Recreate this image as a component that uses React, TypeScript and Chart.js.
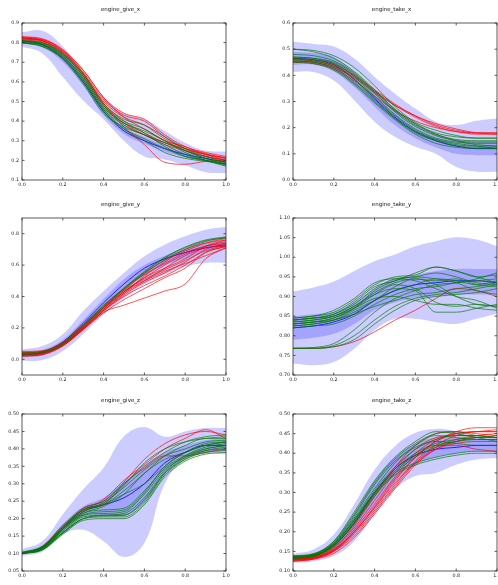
import React, { useEffect, useRef } from 'react';
import { Chart, registerables } from 'chart.js';

Chart.register(...registerables);
Chart.defaults.font.family = '"DejaVu Sans", sans-serif';

// ---------- shared x values / ticks ----------
const XS = [0.0, 0.1, 0.2, 0.3, 0.4, 0.5, 0.6, 0.7, 0.8, 0.9, 1.0];
const X_TICKS = [0.0, 0.2, 0.4, 0.6, 0.8, 1.0];

// ---------- engine_give_x ----------
const giveX_yTicks = [0.1, 0.2, 0.3, 0.4, 0.5, 0.6, 0.7, 0.8, 0.9];
const giveX_outerHi = [0.854, 0.86, 0.78, 0.65, 0.52, 0.44, 0.41, 0.35, 0.29, 0.25, 0.245];
const giveX_outerLo = [0.78, 0.745, 0.625, 0.505, 0.41, 0.30, 0.22, 0.205, 0.175, 0.14, 0.135];
const giveX_innerHi = [0.825, 0.805, 0.74, 0.62, 0.47, 0.37, 0.32, 0.275, 0.245, 0.225, 0.21];
const giveX_innerLo = [0.795, 0.775, 0.70, 0.58, 0.43, 0.335, 0.285, 0.245, 0.215, 0.195, 0.175];
const giveX_mean = [0.81, 0.79, 0.72, 0.60, 0.45, 0.35, 0.30, 0.26, 0.23, 0.21, 0.19];
const giveX_red = [
  [0.83, 0.815, 0.76, 0.65, 0.51, 0.43, 0.40, 0.32, 0.26, 0.23, 0.21],
  [0.825, 0.81, 0.75, 0.64, 0.50, 0.42, 0.38, 0.31, 0.26, 0.23, 0.20],
  [0.82, 0.81, 0.755, 0.645, 0.49, 0.40, 0.34, 0.29, 0.25, 0.22, 0.20],
  [0.83, 0.82, 0.765, 0.66, 0.52, 0.42, 0.36, 0.30, 0.27, 0.23, 0.215],
  [0.82, 0.805, 0.745, 0.63, 0.48, 0.39, 0.33, 0.28, 0.25, 0.22, 0.20],
  [0.815, 0.80, 0.74, 0.63, 0.48, 0.37, 0.28, 0.19, 0.18, 0.195, 0.20],
  [0.82, 0.815, 0.76, 0.66, 0.52, 0.44, 0.41, 0.33, 0.27, 0.24, 0.22],
  [0.825, 0.81, 0.75, 0.64, 0.49, 0.38, 0.33, 0.29, 0.26, 0.235, 0.21],
];
const giveX_green = [
  [0.80, 0.79, 0.73, 0.61, 0.46, 0.38, 0.33, 0.28, 0.23, 0.20, 0.18],
  [0.805, 0.795, 0.74, 0.63, 0.48, 0.40, 0.36, 0.30, 0.25, 0.21, 0.19],
  [0.80, 0.78, 0.72, 0.60, 0.45, 0.36, 0.31, 0.26, 0.22, 0.20, 0.185],
  [0.81, 0.80, 0.745, 0.64, 0.49, 0.41, 0.38, 0.32, 0.26, 0.22, 0.19],
  [0.80, 0.785, 0.725, 0.61, 0.46, 0.36, 0.30, 0.24, 0.21, 0.195, 0.18],
  [0.81, 0.795, 0.735, 0.62, 0.47, 0.39, 0.34, 0.27, 0.22, 0.20, 0.175],
  [0.80, 0.78, 0.715, 0.59, 0.44, 0.37, 0.33, 0.29, 0.25, 0.21, 0.18],
  [0.805, 0.79, 0.73, 0.62, 0.47, 0.39, 0.35, 0.30, 0.24, 0.20, 0.17],
];

// ---------- engine_take_x ----------
const takeX_yTicks = [0.0, 0.1, 0.2, 0.3, 0.4, 0.5, 0.6];
const takeX_outerHi = [0.528, 0.52, 0.51, 0.464, 0.394, 0.33, 0.273, 0.223, 0.21, 0.226, 0.235];
const takeX_outerLo = [0.413, 0.413, 0.38, 0.305, 0.223, 0.165, 0.127, 0.10, 0.05, 0.032, 0.032];
const takeX_innerHi = [0.49, 0.485, 0.47, 0.41, 0.34, 0.27, 0.21, 0.175, 0.155, 0.15, 0.15];
const takeX_innerLo = [0.44, 0.44, 0.415, 0.355, 0.28, 0.21, 0.16, 0.125, 0.10, 0.095, 0.095];
const takeX_mean = [0.465, 0.46, 0.44, 0.385, 0.31, 0.24, 0.185, 0.15, 0.13, 0.12, 0.12];
const takeX_red = [
  [0.465, 0.455, 0.44, 0.40, 0.345, 0.29, 0.245, 0.21, 0.19, 0.18, 0.18],
  [0.46, 0.455, 0.435, 0.395, 0.34, 0.285, 0.24, 0.205, 0.185, 0.18, 0.18],
  [0.455, 0.45, 0.43, 0.39, 0.335, 0.285, 0.245, 0.215, 0.195, 0.18, 0.175],
  [0.45, 0.445, 0.425, 0.38, 0.32, 0.265, 0.225, 0.20, 0.185, 0.175, 0.175],
];
const takeX_green = [
  [0.50, 0.495, 0.475, 0.43, 0.36, 0.28, 0.22, 0.19, 0.17, 0.16, 0.16],
  [0.50, 0.49, 0.465, 0.415, 0.345, 0.27, 0.215, 0.18, 0.165, 0.16, 0.16],
  [0.47, 0.465, 0.45, 0.405, 0.335, 0.26, 0.205, 0.17, 0.15, 0.145, 0.145],
  [0.47, 0.465, 0.445, 0.395, 0.32, 0.25, 0.195, 0.16, 0.145, 0.14, 0.14],
  [0.46, 0.455, 0.435, 0.385, 0.315, 0.245, 0.19, 0.155, 0.135, 0.13, 0.13],
  [0.455, 0.45, 0.43, 0.375, 0.305, 0.235, 0.18, 0.15, 0.13, 0.125, 0.125],
  [0.45, 0.445, 0.42, 0.365, 0.295, 0.23, 0.175, 0.14, 0.125, 0.12, 0.12],
  [0.465, 0.46, 0.445, 0.40, 0.33, 0.265, 0.21, 0.175, 0.155, 0.15, 0.15],
  [0.48, 0.475, 0.455, 0.41, 0.34, 0.27, 0.215, 0.175, 0.15, 0.135, 0.13],
  [0.455, 0.45, 0.425, 0.37, 0.30, 0.235, 0.185, 0.155, 0.14, 0.13, 0.12],
];

// ---------- engine_give_y ----------
const giveY_yTicks = [0.0, 0.2, 0.4, 0.6, 0.8];
const giveY_outerHi = [0.063, 0.085, 0.16, 0.307, 0.434, 0.55, 0.656, 0.73, 0.783, 0.825, 0.842];
const giveY_outerLo = [-0.01, -0.005, 0.053, 0.16, 0.285, 0.39, 0.476, 0.54, 0.59, 0.614, 0.614];
const giveY_innerHi = [0.045, 0.06, 0.125, 0.25, 0.385, 0.51, 0.60, 0.66, 0.70, 0.735, 0.75];
const giveY_innerLo = [0.015, 0.025, 0.09, 0.20, 0.33, 0.44, 0.53, 0.60, 0.64, 0.69, 0.71];
const giveY_mean = [0.03, 0.045, 0.11, 0.23, 0.36, 0.48, 0.58, 0.64, 0.68, 0.71, 0.73];
const giveY_red = [
  [0.02, 0.03, 0.085, 0.19, 0.30, 0.345, 0.39, 0.435, 0.48, 0.64, 0.71],
  [0.03, 0.04, 0.095, 0.20, 0.31, 0.40, 0.47, 0.53, 0.60, 0.68, 0.72],
  [0.04, 0.05, 0.10, 0.21, 0.33, 0.44, 0.51, 0.57, 0.63, 0.69, 0.73],
  [0.025, 0.035, 0.09, 0.20, 0.32, 0.43, 0.52, 0.60, 0.67, 0.72, 0.75],
  [0.05, 0.055, 0.11, 0.22, 0.34, 0.45, 0.55, 0.63, 0.69, 0.74, 0.77],
  [0.03, 0.04, 0.095, 0.195, 0.31, 0.41, 0.49, 0.55, 0.62, 0.70, 0.74],
  [0.035, 0.045, 0.10, 0.205, 0.32, 0.42, 0.50, 0.58, 0.66, 0.71, 0.72],
  [0.02, 0.03, 0.085, 0.19, 0.31, 0.42, 0.53, 0.62, 0.70, 0.74, 0.76],
  [0.045, 0.05, 0.105, 0.215, 0.33, 0.43, 0.52, 0.58, 0.64, 0.72, 0.76],
  [0.03, 0.04, 0.09, 0.19, 0.295, 0.38, 0.45, 0.52, 0.58, 0.68, 0.72],
  [0.04, 0.045, 0.10, 0.21, 0.33, 0.45, 0.54, 0.61, 0.68, 0.72, 0.74],
  [0.025, 0.035, 0.09, 0.195, 0.32, 0.43, 0.50, 0.56, 0.61, 0.66, 0.71],
];
const giveY_green = [
  [0.035, 0.045, 0.10, 0.215, 0.34, 0.45, 0.555, 0.645, 0.71, 0.755, 0.775],
  [0.03, 0.04, 0.095, 0.205, 0.33, 0.44, 0.545, 0.635, 0.70, 0.75, 0.775],
  [0.04, 0.05, 0.105, 0.22, 0.345, 0.455, 0.56, 0.65, 0.715, 0.76, 0.78],
];

// ---------- engine_take_y ----------
const takeY_yTicks = [0.70, 0.75, 0.80, 0.85, 0.90, 0.95, 1.00, 1.05, 1.10];
const takeY_outerHi = [0.913, 0.923, 0.938, 0.965, 0.99, 1.007, 1.028, 1.041, 1.051, 1.045, 1.028];
const takeY_outerLo = [0.729, 0.725, 0.733, 0.767, 0.814, 0.843, 0.843, 0.835, 0.83, 0.843, 0.856];
const takeY_innerHi = [0.85, 0.855, 0.86, 0.885, 0.92, 0.945, 0.955, 0.965, 0.97, 0.97, 0.97];
const takeY_innerLo = [0.79, 0.795, 0.805, 0.83, 0.865, 0.885, 0.895, 0.90, 0.905, 0.905, 0.905];
const takeY_mean = [0.82, 0.825, 0.835, 0.855, 0.89, 0.915, 0.93, 0.935, 0.94, 0.94, 0.935];
const takeY_red = [
  [0.768, 0.768, 0.772, 0.785, 0.81, 0.84, 0.865, 0.895, 0.92, 0.915, 0.90],
];
const takeY_green = [
  [0.845, 0.85, 0.86, 0.89, 0.93, 0.95, 0.955, 0.975, 0.965, 0.95, 0.955],
  [0.84, 0.845, 0.855, 0.88, 0.92, 0.945, 0.95, 0.96, 0.95, 0.935, 0.93],
  [0.835, 0.84, 0.85, 0.875, 0.91, 0.935, 0.945, 0.94, 0.945, 0.93, 0.925],
  [0.83, 0.835, 0.845, 0.87, 0.905, 0.93, 0.92, 0.885, 0.875, 0.88, 0.875],
  [0.825, 0.83, 0.84, 0.865, 0.89, 0.915, 0.93, 0.945, 0.94, 0.93, 0.94],
  [0.845, 0.85, 0.865, 0.895, 0.935, 0.945, 0.94, 0.92, 0.90, 0.89, 0.87],
  [0.82, 0.825, 0.83, 0.85, 0.88, 0.905, 0.92, 0.925, 0.935, 0.94, 0.945],
  [0.84, 0.845, 0.85, 0.87, 0.895, 0.90, 0.89, 0.88, 0.88, 0.87, 0.865],
  [0.83, 0.835, 0.84, 0.855, 0.875, 0.89, 0.905, 0.91, 0.92, 0.925, 0.935],
  [0.835, 0.84, 0.85, 0.875, 0.905, 0.92, 0.915, 0.86, 0.86, 0.87, 0.88],
  [0.768, 0.768, 0.775, 0.80, 0.84, 0.875, 0.895, 0.905, 0.91, 0.92, 0.93],
  [0.768, 0.77, 0.78, 0.815, 0.86, 0.895, 0.915, 0.93, 0.935, 0.945, 0.96],
  [0.768, 0.768, 0.772, 0.79, 0.83, 0.865, 0.89, 0.90, 0.905, 0.91, 0.92],
  [0.825, 0.83, 0.84, 0.86, 0.89, 0.925, 0.945, 0.93, 0.90, 0.88, 0.875],
  [0.84, 0.845, 0.855, 0.885, 0.925, 0.94, 0.96, 0.975, 0.965, 0.95, 0.935],
  [0.83, 0.835, 0.845, 0.87, 0.915, 0.94, 0.95, 0.945, 0.935, 0.915, 0.905],
];

// ---------- engine_give_z ----------
const giveZ_yTicks = [0.05, 0.10, 0.15, 0.20, 0.25, 0.30, 0.35, 0.40, 0.45, 0.50];
const giveZ_outerHi = [0.112, 0.136, 0.212, 0.284, 0.346, 0.436, 0.463, 0.435, 0.45, 0.46, 0.46];
const giveZ_outerLo = [0.093, 0.105, 0.155, 0.168, 0.135, 0.09, 0.13, 0.30, 0.37, 0.385, 0.385];
const giveZ_innerHi = [0.105, 0.125, 0.185, 0.235, 0.26, 0.305, 0.35, 0.39, 0.41, 0.425, 0.43];
const giveZ_innerLo = [0.097, 0.11, 0.165, 0.205, 0.21, 0.21, 0.25, 0.33, 0.375, 0.39, 0.395];
const giveZ_mean = [0.10, 0.118, 0.175, 0.225, 0.24, 0.26, 0.30, 0.36, 0.39, 0.41, 0.41];
const giveZ_red = [
  [0.10, 0.12, 0.18, 0.225, 0.255, 0.31, 0.355, 0.40, 0.43, 0.455, 0.43],
  [0.10, 0.12, 0.175, 0.23, 0.25, 0.305, 0.37, 0.415, 0.44, 0.45, 0.44],
  [0.10, 0.115, 0.17, 0.225, 0.24, 0.30, 0.345, 0.38, 0.38, 0.39, 0.40],
];
const giveZ_green = [
  [0.10, 0.118, 0.175, 0.225, 0.245, 0.29, 0.34, 0.38, 0.40, 0.42, 0.425],
  [0.102, 0.12, 0.18, 0.23, 0.25, 0.30, 0.35, 0.39, 0.42, 0.435, 0.44],
  [0.10, 0.115, 0.17, 0.22, 0.24, 0.28, 0.33, 0.38, 0.41, 0.43, 0.43],
  [0.103, 0.12, 0.175, 0.22, 0.245, 0.295, 0.36, 0.40, 0.42, 0.43, 0.435],
  [0.10, 0.116, 0.17, 0.215, 0.235, 0.27, 0.33, 0.37, 0.39, 0.41, 0.42],
  [0.10, 0.112, 0.16, 0.205, 0.21, 0.21, 0.255, 0.33, 0.37, 0.39, 0.395],
  [0.10, 0.11, 0.155, 0.195, 0.20, 0.20, 0.24, 0.32, 0.365, 0.385, 0.39],
  [0.102, 0.115, 0.165, 0.21, 0.215, 0.22, 0.27, 0.34, 0.375, 0.395, 0.40],
  [0.10, 0.113, 0.16, 0.20, 0.205, 0.205, 0.245, 0.325, 0.37, 0.395, 0.405],
  [0.104, 0.118, 0.17, 0.215, 0.225, 0.23, 0.28, 0.345, 0.38, 0.40, 0.41],
  [0.10, 0.112, 0.16, 0.20, 0.21, 0.215, 0.26, 0.335, 0.38, 0.405, 0.415],
  [0.101, 0.114, 0.165, 0.21, 0.22, 0.225, 0.275, 0.35, 0.39, 0.41, 0.42],
  [0.10, 0.112, 0.158, 0.20, 0.208, 0.21, 0.25, 0.33, 0.375, 0.40, 0.41],
  [0.102, 0.118, 0.172, 0.22, 0.24, 0.27, 0.30, 0.35, 0.39, 0.415, 0.42],
];

// ---------- engine_take_z ----------
const takeZ_yTicks = [0.10, 0.15, 0.20, 0.25, 0.30, 0.35, 0.40, 0.45, 0.50];
const takeZ_outerHi = [0.144, 0.155, 0.193, 0.27, 0.358, 0.418, 0.452, 0.462, 0.456, 0.443, 0.439];
const takeZ_outerLo = [0.121, 0.125, 0.138, 0.176, 0.244, 0.308, 0.342, 0.35, 0.371, 0.384, 0.388];
const takeZ_innerHi = [0.138, 0.145, 0.178, 0.245, 0.33, 0.39, 0.425, 0.44, 0.44, 0.435, 0.435];
const takeZ_innerLo = [0.127, 0.132, 0.15, 0.20, 0.27, 0.33, 0.37, 0.39, 0.40, 0.405, 0.405];
const takeZ_mean = [0.132, 0.138, 0.165, 0.222, 0.30, 0.36, 0.395, 0.41, 0.415, 0.42, 0.42];
const takeZ_red = [
  [0.125, 0.13, 0.145, 0.185, 0.245, 0.31, 0.37, 0.41, 0.43, 0.44, 0.44],
  [0.128, 0.132, 0.15, 0.195, 0.255, 0.32, 0.38, 0.42, 0.445, 0.455, 0.455],
  [0.13, 0.135, 0.155, 0.20, 0.265, 0.335, 0.39, 0.43, 0.45, 0.455, 0.46],
  [0.125, 0.13, 0.15, 0.19, 0.25, 0.315, 0.375, 0.415, 0.435, 0.445, 0.45],
  [0.132, 0.138, 0.16, 0.21, 0.28, 0.35, 0.40, 0.435, 0.45, 0.455, 0.455],
  [0.13, 0.135, 0.158, 0.215, 0.29, 0.36, 0.41, 0.44, 0.445, 0.445, 0.44],
  [0.135, 0.14, 0.165, 0.22, 0.295, 0.365, 0.42, 0.45, 0.455, 0.45, 0.445],
  [0.127, 0.132, 0.152, 0.20, 0.26, 0.325, 0.375, 0.41, 0.425, 0.43, 0.43],
  [0.13, 0.134, 0.155, 0.205, 0.27, 0.34, 0.395, 0.42, 0.42, 0.41, 0.405],
  [0.128, 0.133, 0.152, 0.198, 0.262, 0.33, 0.39, 0.43, 0.455, 0.465, 0.465],
];
const takeZ_green = [
  [0.135, 0.14, 0.17, 0.235, 0.31, 0.375, 0.42, 0.445, 0.44, 0.435, 0.435],
  [0.138, 0.143, 0.175, 0.245, 0.325, 0.385, 0.425, 0.45, 0.455, 0.445, 0.44],
  [0.133, 0.138, 0.165, 0.225, 0.30, 0.36, 0.40, 0.425, 0.435, 0.44, 0.44],
  [0.136, 0.141, 0.17, 0.23, 0.30, 0.35, 0.375, 0.39, 0.40, 0.405, 0.405],
  [0.134, 0.139, 0.168, 0.23, 0.305, 0.365, 0.41, 0.435, 0.445, 0.445, 0.44],
  [0.137, 0.142, 0.172, 0.24, 0.32, 0.38, 0.415, 0.43, 0.425, 0.42, 0.42],
  [0.132, 0.137, 0.162, 0.22, 0.29, 0.35, 0.39, 0.415, 0.43, 0.44, 0.445],
  [0.135, 0.14, 0.168, 0.228, 0.298, 0.355, 0.395, 0.42, 0.43, 0.435, 0.435],
  [0.139, 0.144, 0.176, 0.25, 0.33, 0.39, 0.43, 0.455, 0.45, 0.44, 0.43],
  [0.133, 0.138, 0.164, 0.222, 0.295, 0.345, 0.37, 0.385, 0.395, 0.40, 0.40],
];

// ---------- layout ----------
const COL_X = [22, 293];
const ROW_Y = [23, 218, 414];
const PLOT_W = 204;
const PLOT_H = 157;
const PAD_L = 30;
const PAD_T = 24;
const PAD_R = 14;
const PAD_B = 12;

type Spec = {
  title: string;
  col: number;
  row: number;
  yMin: number;
  yMax: number;
  yTicks: number[];
  yDec: number;
  outerHi: number[];
  outerLo: number[];
  innerHi: number[];
  innerLo: number[];
  mean: number[];
  red: number[][];
  green: number[][];
};

const PANELS: Spec[] = [
  { title: 'engine_give_x', col: 0, row: 0, yMin: 0.1, yMax: 0.9, yTicks: giveX_yTicks, yDec: 1,
    outerHi: giveX_outerHi, outerLo: giveX_outerLo, innerHi: giveX_innerHi, innerLo: giveX_innerLo,
    mean: giveX_mean, red: giveX_red, green: giveX_green },
  { title: 'engine_take_x', col: 1, row: 0, yMin: 0.0, yMax: 0.6, yTicks: takeX_yTicks, yDec: 1,
    outerHi: takeX_outerHi, outerLo: takeX_outerLo, innerHi: takeX_innerHi, innerLo: takeX_innerLo,
    mean: takeX_mean, red: takeX_red, green: takeX_green },
  { title: 'engine_give_y', col: 0, row: 1, yMin: -0.1, yMax: 0.9, yTicks: giveY_yTicks, yDec: 1,
    outerHi: giveY_outerHi, outerLo: giveY_outerLo, innerHi: giveY_innerHi, innerLo: giveY_innerLo,
    mean: giveY_mean, red: giveY_red, green: giveY_green },
  { title: 'engine_take_y', col: 1, row: 1, yMin: 0.7, yMax: 1.1, yTicks: takeY_yTicks, yDec: 2,
    outerHi: takeY_outerHi, outerLo: takeY_outerLo, innerHi: takeY_innerHi, innerLo: takeY_innerLo,
    mean: takeY_mean, red: takeY_red, green: takeY_green },
  { title: 'engine_give_z', col: 0, row: 2, yMin: 0.05, yMax: 0.5, yTicks: giveZ_yTicks, yDec: 2,
    outerHi: giveZ_outerHi, outerLo: giveZ_outerLo, innerHi: giveZ_innerHi, innerLo: giveZ_innerLo,
    mean: giveZ_mean, red: giveZ_red, green: giveZ_green },
  { title: 'engine_take_z', col: 1, row: 2, yMin: 0.1, yMax: 0.5, yTicks: takeZ_yTicks, yDec: 2,
    outerHi: takeZ_outerHi, outerLo: takeZ_outerLo, innerHi: takeZ_innerHi, innerLo: takeZ_innerLo,
    mean: takeZ_mean, red: takeZ_red, green: takeZ_green },
];

const pts = (ys: number[]) => ys.map((y, i) => ({ x: XS[i], y }));

const framePlugin = {
  id: 'mplFrame',
  afterDraw(chart: any, _args: any, opts: any) {
    const { ctx, chartArea } = chart;
    const { left, right, top, bottom } = chartArea;
    const xs = chart.scales.x;
    const ys = chart.scales.y;
    ctx.save();
    ctx.strokeStyle = '#333';
    ctx.lineWidth = 0.8;
    ctx.strokeRect(left, top, right - left, bottom - top);
    ctx.beginPath();
    const tl = 2.5;
    xs.ticks.forEach((t: any) => {
      const px = xs.getPixelForValue(t.value);
      ctx.moveTo(px, bottom);
      ctx.lineTo(px, bottom - tl);
      ctx.moveTo(px, top);
      ctx.lineTo(px, top + tl);
    });
    ys.ticks.forEach((t: any) => {
      const py = ys.getPixelForValue(t.value);
      ctx.moveTo(left, py);
      ctx.lineTo(left + tl, py);
      ctx.moveTo(right, py);
      ctx.lineTo(right - tl, py);
    });
    ctx.stroke();
    ctx.fillStyle = '#111';
    ctx.font = '5.5px "DejaVu Sans", sans-serif';
    ctx.textAlign = 'center';
    ctx.textBaseline = 'alphabetic';
    ctx.fillText(opts.title, (left + right) / 2 - 3.5, top - 12.5);
    ctx.restore();
  },
};

function Panel({ spec }: { spec: Spec }) {
  const ref = useRef<HTMLCanvasElement>(null);
  useEffect(() => {
    if (!ref.current) return;
    const band = (d: number[], fill: any, order: number) => ({
      data: pts(d),
      borderColor: 'transparent',
      borderWidth: 0,
      backgroundColor: 'rgba(0,0,255,0.2)',
      fill,
      pointRadius: 0,
      tension: 0.4,
      order,
    });
    const line = (d: number[], color: string, width: number, order: number) => ({
      data: pts(d),
      borderColor: color,
      borderWidth: width,
      fill: false,
      pointRadius: 0,
      cubicInterpolationMode: 'monotone',
      order,
    });
    const datasets: any[] = [
      band(spec.outerHi, '+1', 20),
      band(spec.outerLo, false, 20),
      band(spec.innerHi, '+1', 19),
      band(spec.innerLo, false, 19),
      line(spec.mean, 'rgba(0,0,255,0.9)', 0.9, 10),
      ...spec.red.map((r) => line(r, 'rgba(255,0,0,0.85)', 0.8, 5)),
      ...spec.green.map((g) => line(g, 'rgba(0,120,0,0.85)', 0.8, 1)),
    ];
    const tickFont = { size: 4.8, family: '"DejaVu Sans", sans-serif' };
    const chart = new Chart(ref.current, {
      type: 'line',
      data: { datasets },
      plugins: [framePlugin],
      options: {
        responsive: false,
        animation: false,
        events: [],
        layout: { padding: { left: 0, top: PAD_T, right: PAD_R, bottom: 0 } },
        plugins: {
          legend: { display: false },
          tooltip: { enabled: false },
          title: { display: false },
          mplFrame: { title: spec.title },
        } as any,
        scales: {
          x: {
            type: 'linear',
            min: 0,
            max: 1,
            grid: { display: false, drawTicks: false, tickLength: 0 },
            border: { display: false },
            ticks: {
              font: tickFont,
              color: '#222',
              padding: 2,
              maxRotation: 0,
              autoSkip: false,
              callback: (v: any) => Number(v).toFixed(1),
            },
            afterBuildTicks: (s: any) => {
              s.ticks = X_TICKS.map((v) => ({ value: v }));
            },
            afterFit: (s: any) => {
              s.height = PAD_B;
            },
          },
          y: {
            type: 'linear',
            min: spec.yMin,
            max: spec.yMax,
            grid: { display: false, drawTicks: false, tickLength: 0 },
            border: { display: false },
            ticks: {
              font: tickFont,
              color: '#222',
              padding: 3,
              autoSkip: false,
              callback: (v: any) => Number(v).toFixed(spec.yDec),
            },
            afterBuildTicks: (s: any) => {
              s.ticks = spec.yTicks.map((v) => ({ value: v }));
            },
            afterFit: (s: any) => {
              s.width = PAD_L;
            },
          },
        },
      } as any,
    });
    return () => chart.destroy();
  }, [spec]);

  const left = COL_X[spec.col] - PAD_L;
  const top = ROW_Y[spec.row] - PAD_T;
  const w = PAD_L + PLOT_W + PAD_R;
  const h = PAD_T + PLOT_H + PAD_B;
  return (
    <canvas
      ref={ref}
      width={w}
      height={h}
      style={{ position: 'absolute', left, top, width: w, height: h }}
    />
  );
}

export default function App() {
  return (
    <div
      style={{
        position: 'absolute',
        left: 0,
        top: 0,
        width: 498,
        height: 585,
        overflow: 'hidden',
        background: '#fff',
      }}
    >
      {PANELS.map((p) => (
        <Panel key={p.title} spec={p} />
      ))}
    </div>
  );
}
